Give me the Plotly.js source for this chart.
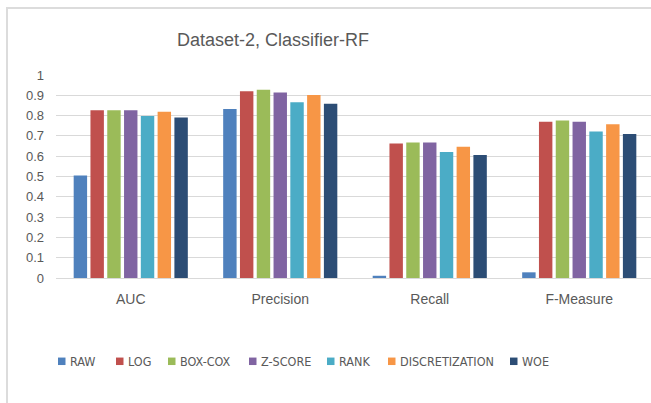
<!DOCTYPE html>
<html>
<head>
<meta charset="utf-8">
<script src="https://cdn.plot.ly/plotly-3.0.1.min.js"></script>
<style>
  html, body { margin: 0; padding: 0; background: #ffffff; overflow: hidden; }
  #wrap { position: relative; width: 651px; height: 403px; overflow: hidden; }
  #chart { position: absolute; left: 0; top: 0; width: 660px; height: 403px; }
  #frame { position: absolute; left: 6px; top: 7px; width: 700px; height: 500px;
           border-left: 2px solid #DCDCDC; border-top: 2px solid #DCDCDC; pointer-events: none; }
</style>
</head>
<body>
<div id="wrap">
  <div id="chart"></div>
  <div id="frame"></div>
</div>
<script>
// ---- data ----
const categories = ['AUC', 'Precision', 'Recall', 'F-Measure'];
const seriesNames = ['RAW', 'LOG', 'BOX-COX', 'Z-SCORE', 'RANK', 'DISCRETIZATION', 'WOE'];
const RAW            = [0.505, 0.832, 0.011, 0.028];
const LOG            = [0.826, 0.920, 0.662, 0.770];
const BOXCOX         = [0.826, 0.927, 0.668, 0.776];
const ZSCORE         = [0.826, 0.914, 0.668, 0.770];
const RANK           = [0.798, 0.866, 0.621, 0.722];
const DISCRETIZATION = [0.819, 0.901, 0.647, 0.758];
const WOE            = [0.791, 0.858, 0.606, 0.709];
const yTickVals = [0, 0.1, 0.2, 0.3, 0.4, 0.5, 0.6, 0.7, 0.8, 0.9, 1];
const yTickText = ['0', '0.1', '0.2', '0.3', '0.4', '0.5', '0.6', '0.7', '0.8', '0.9', '1'];

const seriesValues = [RAW, LOG, BOXCOX, ZSCORE, RANK, DISCRETIZATION, WOE];
const colors = ['#4F81BD', '#C0504D', '#9BBB59', '#8064A2', '#4BACC6', '#F79646', '#2C4D75'];

// ---- geometry (pixels) ----
const W = 660, H = 403;
const M = { l: 56, r: 6, t: 74.5, b: 125 };
const plotW = W - M.l - M.r, plotH = H - M.t - M.b;
const px2x = px => (px - M.l) / plotW;
const py2y = py => (H - M.b - py) / plotH;

const textColor = '#595959';
const narrow = '"Liberation Sans Narrow", "Arial Narrow", "DejaVu Sans Condensed", sans-serif';
const sans = '"Liberation Sans", Arial, sans-serif';

const traces = seriesNames.map((name, i) => ({
  type: 'bar',
  name: name,
  x: categories,
  y: seriesValues[i],
  marker: { color: colors[i], line: { width: 0 } },
  showlegend: false,
  hoverinfo: 'skip'
}));

// legend drawn as squares + labels (positions measured from reference)
const legendSquareX = [58, 116, 168, 249, 327, 388, 510];
const legendY = 361.5;
const shapes = [];
const annotations = [];
seriesNames.forEach((name, i) => {
  const x0 = legendSquareX[i];
  shapes.push({
    type: 'rect', xref: 'paper', yref: 'paper',
    x0: px2x(x0), x1: px2x(x0 + 7.5),
    y0: py2y(legendY - 3.75), y1: py2y(legendY + 3.75),
    fillcolor: colors[i], line: { width: 0 }
  });
  annotations.push({
    xref: 'paper', yref: 'paper',
    x: px2x(x0 + 9.5), y: py2y(legendY),
    xanchor: 'left', yanchor: 'middle',
    text: name, showarrow: false,
    font: { family: narrow, size: 12.5, color: textColor }
  });
});

const layout = {
  width: W, height: H,
  margin: M,
  paper_bgcolor: 'rgba(0,0,0,0)',
  plot_bgcolor: 'rgba(0,0,0,0)',
  title: {
    text: 'Dataset-2, Classifier-RF',
    x: 273 / W, xanchor: 'center', xref: 'container',
    y: 1 - 40 / H, yanchor: 'middle', yref: 'container',
    font: { family: sans, size: 18, color: textColor }
  },
  barmode: 'group',
  bargap: 0.214,
  bargroupgap: 0.2,
  xaxis: {
    type: 'category',
    showgrid: false,
    showline: true, linecolor: '#D9D9D9', linewidth: 1,
    ticks: '',
    ticklabelstandoff: 8,
    tickfont: { family: sans, size: 14, color: textColor },
    fixedrange: true
  },
  yaxis: {
    range: [0, 1],
    tickvals: yTickVals,
    ticktext: yTickText,
    showgrid: true, gridcolor: '#D9D9D9', gridwidth: 1,
    zeroline: false,
    showline: false,
    ticks: '',
    ticklabelstandoff: 11,
    tickfont: { family: sans, size: 13, color: textColor },
    fixedrange: true
  },
  shapes: shapes,
  annotations: annotations,
  showlegend: false
};

Plotly.newPlot('chart', traces, layout, { staticPlot: true, displayModeBar: false });
</script>
</body>
</html>
